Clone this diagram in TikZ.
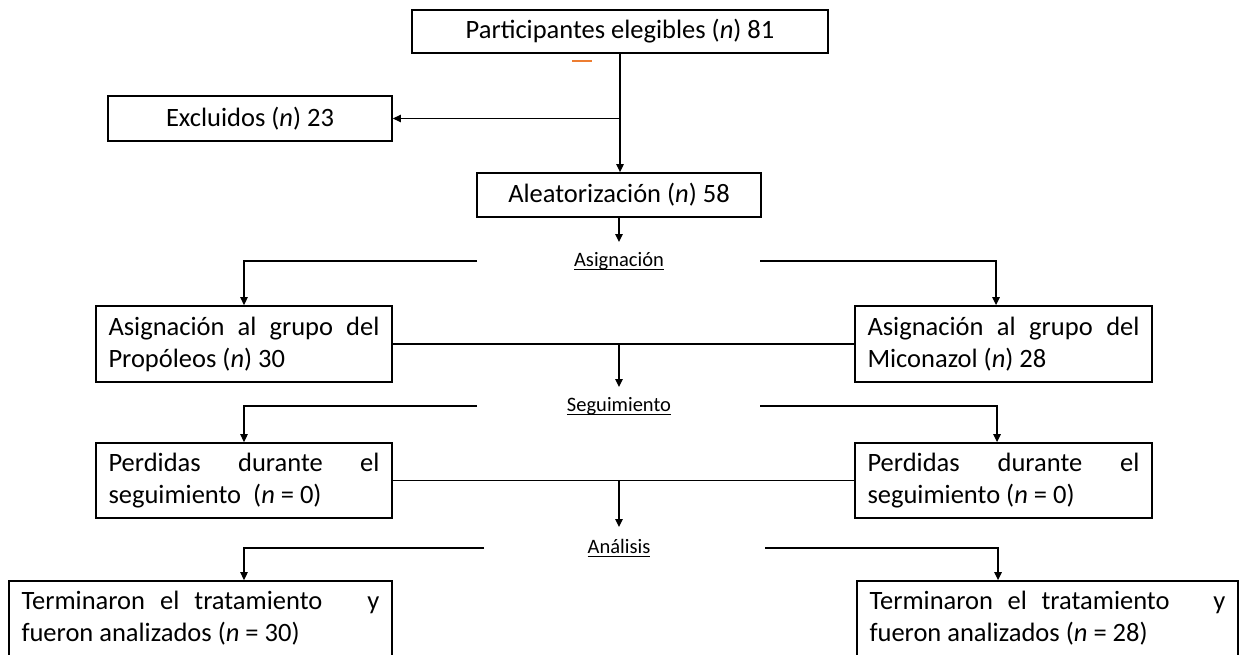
\documentclass[tikz,border=0pt]{standalone}
\usepackage{fontspec}
\setmainfont{Carlito}
\usetikzlibrary{arrows.meta}
\definecolor{dashorange}{RGB}{237,125,49}
\newcommand\myul[1]{\setbox0\hbox{#1}\rlap{\rule[-4pt]{\wd0}{1pt}}\box0}
\begin{document}
\begin{tikzpicture}[x=1pt,y=-1pt,
  box/.style={draw, line width=1.8pt, inner ysep=0pt, font=\fontsize{26.5}{32}\selectfont},
  cbox/.style={box, align=center, inner xsep=0pt},
  jbox/.style={box, align=left, inner xsep=12.5pt},
  conn/.style={line width=1.3pt},
  arr/.style={conn, -{Triangle[length=8pt,width=7.5pt]}},
  lab/.style={inner sep=0pt, anchor=base, font=\fontsize{20.5}{24}\selectfont}]
\fill[white] (0,0) rectangle (1241,655);
\useasboundingbox (0,0) rectangle (1241,655);

% boxes
\node[cbox, minimum width=416, minimum height=43] (top) at (620,31.5) {Participantes elegibles (\textit{n}) 81};
\node[cbox, minimum width=284, minimum height=45] (excl) at (250,118.5) {Excluidos (\textit{n}) 23};
\node[cbox, minimum width=284, minimum height=44] (alea) at (619,195) {Aleatorización (\textit{n}) 58};
\node[jbox, minimum width=296, minimum height=76] (prop) at (244,344)
  {\hbox to 271pt{Asignación\hfill al\hfill grupo\hfill del}\\\hbox to 271pt{Propóleos (\textit{n}) 30\hfill}};
\node[jbox, minimum width=297, minimum height=76] (mico) at (1003.5,344)
  {\hbox to 272pt{Asignación\hfill al\hfill grupo\hfill del}\\\hbox to 272pt{Miconazol (\textit{n}) 28\hfill}};
\node[jbox, minimum width=296, minimum height=75] (perdL) at (244,480.5)
  {\hbox to 271pt{Perdidas\hfill durante\hfill el}\\\hbox to 271pt{seguimiento\hspace{6pt} (\textit{n} = 0)\hfill}};
\node[jbox, minimum width=297, minimum height=75] (perdR) at (1003.5,480.5)
  {\hbox to 272pt{Perdidas\hfill durante\hfill el}\\\hbox to 272pt{seguimiento (\textit{n} = 0)\hfill}};
\node[jbox, minimum width=383, minimum height=75] (termL) at (200.5,618.5)
  {\hbox to 358pt{Terminaron\hfill el\hfill tratamiento\hfill\hfill\hfill y}\\\hbox to 358pt{fueron analizados (\textit{n} = 30)\hfill}};
\node[jbox, minimum width=381, minimum height=75] (termR) at (1047.5,618.5)
  {\hbox to 356pt{Terminaron\hfill el\hfill tratamiento\hfill\hfill\hfill y}\\\hbox to 356pt{fueron analizados (\textit{n} = 28)\hfill}};

% labels
\node[lab] (asig) at (619,266) {\myul{Asignación}};
\node[lab] (segu) at (619,411) {\myul{Seguimiento}};
\node[lab] (anal) at (619,553) {\myul{Análisis}};

% stray orange mark
\draw[dashorange, line width=1.6pt] (572,61) -- (592,61);

% coordinates
\coordinate (j1) at (620,118.5);
\coordinate (a1) at (619,242);
\coordinate (aL) at (477,261);
\coordinate (aR) at (760,261);
\coordinate (m1) at (619,344);
\coordinate (s1) at (619,387);
\coordinate (sL) at (477,406);
\coordinate (sR) at (760,406);
\coordinate (m2) at (619,480.5);
\coordinate (n1) at (619,527);
\coordinate (nL) at (484,548);
\coordinate (nR) at (765,548);

% connectors
\draw[arr] (top.south) -- (top.south |- alea.north);
\draw[arr] (j1) -- (excl.east);
\draw[arr] (alea.south) -- (a1);
\draw[arr] (aL) -| (prop.north);
\draw[arr] (aR) -| ([xshift=-7.5pt]mico.north);
\draw[conn] (prop.east) -- (mico.west);
\draw[arr] (m1) -- (s1);
\draw[arr] (sL) -| (perdL.north);
\draw[arr] (sR) -| ([xshift=-6.5pt]perdR.north);
\draw[conn] (perdL.east) -- (perdR.west);
\draw[arr] (m2) -- (n1);
\draw[arr] (nL) -| ([xshift=43.5pt]termL.north);
\draw[arr] (nR) -| ([xshift=-49.5pt]termR.north);
\end{tikzpicture}
\end{document}
